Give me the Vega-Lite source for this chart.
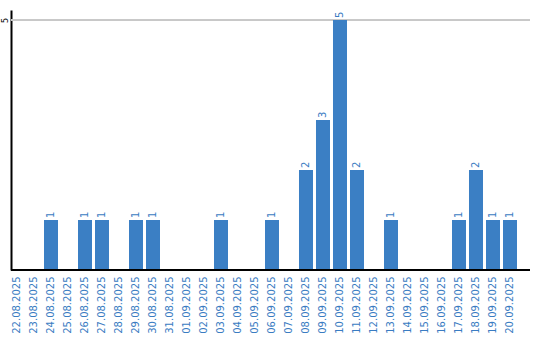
{
  "$schema": "https://vega.github.io/schema/vega-lite/v6.json",
  "autosize": "none",
  "width": 519,
  "height": 260,
  "padding": {"left": 11, "top": 10, "right": 10, "bottom": 70},
  "background": "white",
  "config": {"view": {"stroke": null}, "font": "DejaVu Sans"},
  "data": {
    "values": [
      {"date": "22.08.2025", "count": 0},
      {"date": "23.08.2025", "count": 0},
      {"date": "24.08.2025", "count": 1},
      {"date": "25.08.2025", "count": 0},
      {"date": "26.08.2025", "count": 1},
      {"date": "27.08.2025", "count": 1},
      {"date": "28.08.2025", "count": 0},
      {"date": "29.08.2025", "count": 1},
      {"date": "30.08.2025", "count": 1},
      {"date": "31.08.2025", "count": 0},
      {"date": "01.09.2025", "count": 0},
      {"date": "02.09.2025", "count": 0},
      {"date": "03.09.2025", "count": 1},
      {"date": "04.09.2025", "count": 0},
      {"date": "05.09.2025", "count": 0},
      {"date": "06.09.2025", "count": 1},
      {"date": "07.09.2025", "count": 0},
      {"date": "08.09.2025", "count": 2},
      {"date": "09.09.2025", "count": 3},
      {"date": "10.09.2025", "count": 5},
      {"date": "11.09.2025", "count": 2},
      {"date": "12.09.2025", "count": 0},
      {"date": "13.09.2025", "count": 1},
      {"date": "14.09.2025", "count": 0},
      {"date": "15.09.2025", "count": 0},
      {"date": "16.09.2025", "count": 0},
      {"date": "17.09.2025", "count": 1},
      {"date": "18.09.2025", "count": 2},
      {"date": "19.09.2025", "count": 1},
      {"date": "20.09.2025", "count": 1}
    ]
  },
  "layer": [
    {
      "mark": {"type": "rule", "color": "#c8c8c8", "strokeWidth": 1},
      "encoding": {"y": {"datum": 5}}
    },
    {
      "mark": {"type": "bar", "color": "#3b7fc4"},
      "encoding": {
        "x": {
          "field": "date",
          "type": "nominal",
          "sort": null,
          "title": null,
          "scale": {"paddingInner": 0.176, "paddingOuter": 0, "range": [-1, 506]},
          "axis": {
            "labelAngle": -90,
            "labelColor": "#3a7cc2",
            "labelFontSize": 10,
            "labelFont": "DejaVu Sans",
            "ticks": false,
            "labelPadding": 6,
            "domain": false,
            "grid": false
          }
        },
        "y": {
          "field": "count",
          "type": "quantitative",
          "title": null,
          "scale": {"domain": [0, 5.2], "nice": false},
          "axis": {
            "values": [5],
            "labelAngle": -90,
            "labelAlign": "center",
            "labelBaseline": "bottom",
            "labelFontSize": 8,
            "labelColor": "#000000",
            "ticks": false,
            "labelPadding": 2,
            "domainColor": "#000000",
            "domainWidth": 2,
            "grid": false
          }
        }
      }
    },
    {
      "transform": [{"filter": "datum.count > 0"}],
      "mark": {
        "type": "text",
        "angle": -90,
        "align": "left",
        "baseline": "middle",
        "dx": 2,
        "fontSize": 10,
        "color": "#3a7cc2",
        "font": "DejaVu Sans"
      },
      "encoding": {
        "x": {"field": "date", "type": "nominal", "sort": null, "bandPosition": 0.5},
        "y": {"field": "count", "type": "quantitative"},
        "text": {"field": "count", "type": "quantitative"}
      }
    },
    {
      "mark": {"type": "rule", "color": "#000000", "strokeWidth": 2},
      "encoding": {"y": {"datum": 0}}
    }
  ]
}
